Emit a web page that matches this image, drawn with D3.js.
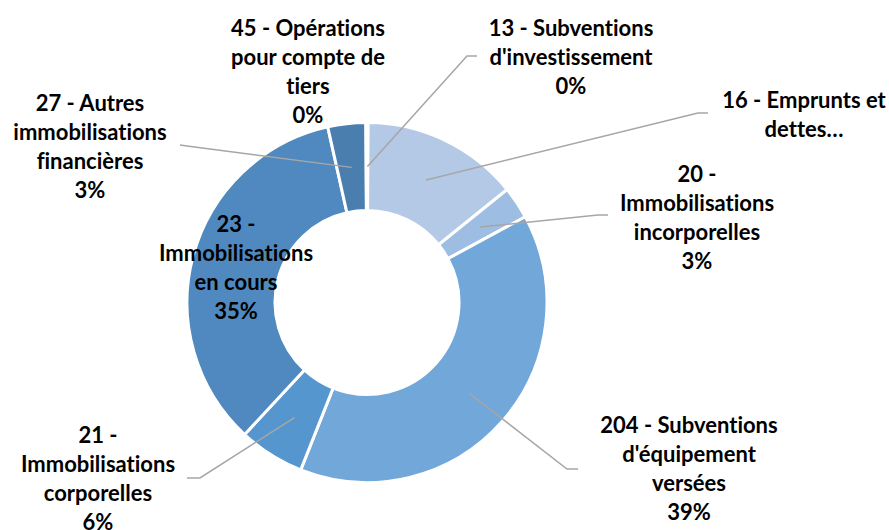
<!DOCTYPE html>
<html>
<head>
<meta charset="utf-8">
<script src="https://cdn.jsdelivr.net/npm/d3@7"></script>
<style>
  html, body { margin: 0; padding: 0; background: #fff; }
  svg { display: block; }
  text { font-family: Lato, "Open Sans", sans-serif; font-weight: 700; fill: #000;
         font-variant-ligatures: none; font-feature-settings: "liga" 0, "clig" 0; }
</style>
</head>
<body>
<svg id="chart" width="889" height="530"></svg>
<script>
// ---- Data ----
const categories = [
  "13 - Subventions d'investissement",
  "16 - Emprunts et dettes…",
  "20 - Immobilisations incorporelles",
  "204 - Subventions d'équipement versées",
  "21 - Immobilisations corporelles",
  "23 - Immobilisations en cours",
  "27 - Autres immobilisations financières",
  "45 - Opérations pour compte de tiers"
];
const values = [0.1, 14.1, 2.9, 38.9, 5.9, 34.6, 3.4, 0.1];
const percentLabels = ["0%", null, "3%", "39%", "6%", "35%", "3%", "0%"];
// label lines as displayed (wrapped)
const labelLines = [
  ["13 - Subventions", "d'investissement"],
  ["16 - Emprunts et", "dettes…"],
  ["20 -", "Immobilisations", "incorporelles"],
  ["204 - Subventions", "d'équipement", "versées"],
  ["21 -", "Immobilisations", "corporelles"],
  ["23 -", "Immobilisations", "en cours"],
  ["27 - Autres", "immobilisations", "financières"],
  ["45 - Opérations", "pour compte de", "tiers"]
];
const colors = ["#bcd0ea", "#b4c9e5", "#9dbde3", "#72a7da", "#5596cf", "#4f89bf", "#4a7eae", "#44739f"];

// ---- Layout (positions, not data) ----
const cx = 367, cy = 302.5, rOuter = 180, rInner = 92;
const lineGap = 29;
const labelPos = [
  { x: 571, y: 36,  leader: [[467, 56], [477, 56]] },
  { x: 804, y: 108, leader: [[698, 113], [708, 113]] },
  { x: 697, y: 182, leader: [[598, 215], [608, 215]] },
  { x: 689, y: 433, leader: [[567, 469], [578, 469]] },
  { x: 98,  y: 443, leader: [[200, 478], [187, 478]] },
  { x: 236, y: 232, leader: null },
  { x: 90,  y: 111, leader: [[187, 146], [180, 145]] },
  { x: 308, y: 36,  leader: null }
];

const svg = d3.select("#chart");
const g = svg.append("g").attr("transform", `translate(${cx},${cy})`);

const pie = d3.pie().sort(null).value(d => d).startAngle(0).endAngle(2 * Math.PI);
const arcs = pie(values);
const arc = d3.arc().innerRadius(rInner).outerRadius(rOuter);

g.selectAll("path.slice")
  .data(arcs)
  .join("path")
  .attr("class", "slice")
  .attr("d", arc)
  .attr("fill", (d, i) => colors[i])
  .attr("stroke", "#fff")
  .attr("stroke-width", 3)
  .attr("stroke-linejoin", "miter");

// Leader lines
const line = d3.line();
arcs.forEach((a, i) => {
  const p = labelPos[i];
  if (!p.leader) return;
  const c = arc.centroid(a);
  const pts = [[cx + c[0], cy + c[1]], ...p.leader];
  svg.append("path")
    .attr("d", line(pts))
    .attr("fill", "none")
    .attr("stroke", "#a6a6a6")
    .attr("stroke-width", 1.5);
});

// Labels
arcs.forEach((a, i) => {
  const p = labelPos[i];
  const lines = labelLines[i].slice();
  if (percentLabels[i]) lines.push(percentLabels[i]);
  const t = svg.append("text")
    .attr("text-anchor", "middle")
    .attr("font-size", 22);
  lines.forEach((s, k) => {
    t.append("tspan").attr("x", p.x).attr("y", p.y + k * lineGap).text(s);
  });
});
</script>
</body>
</html>
